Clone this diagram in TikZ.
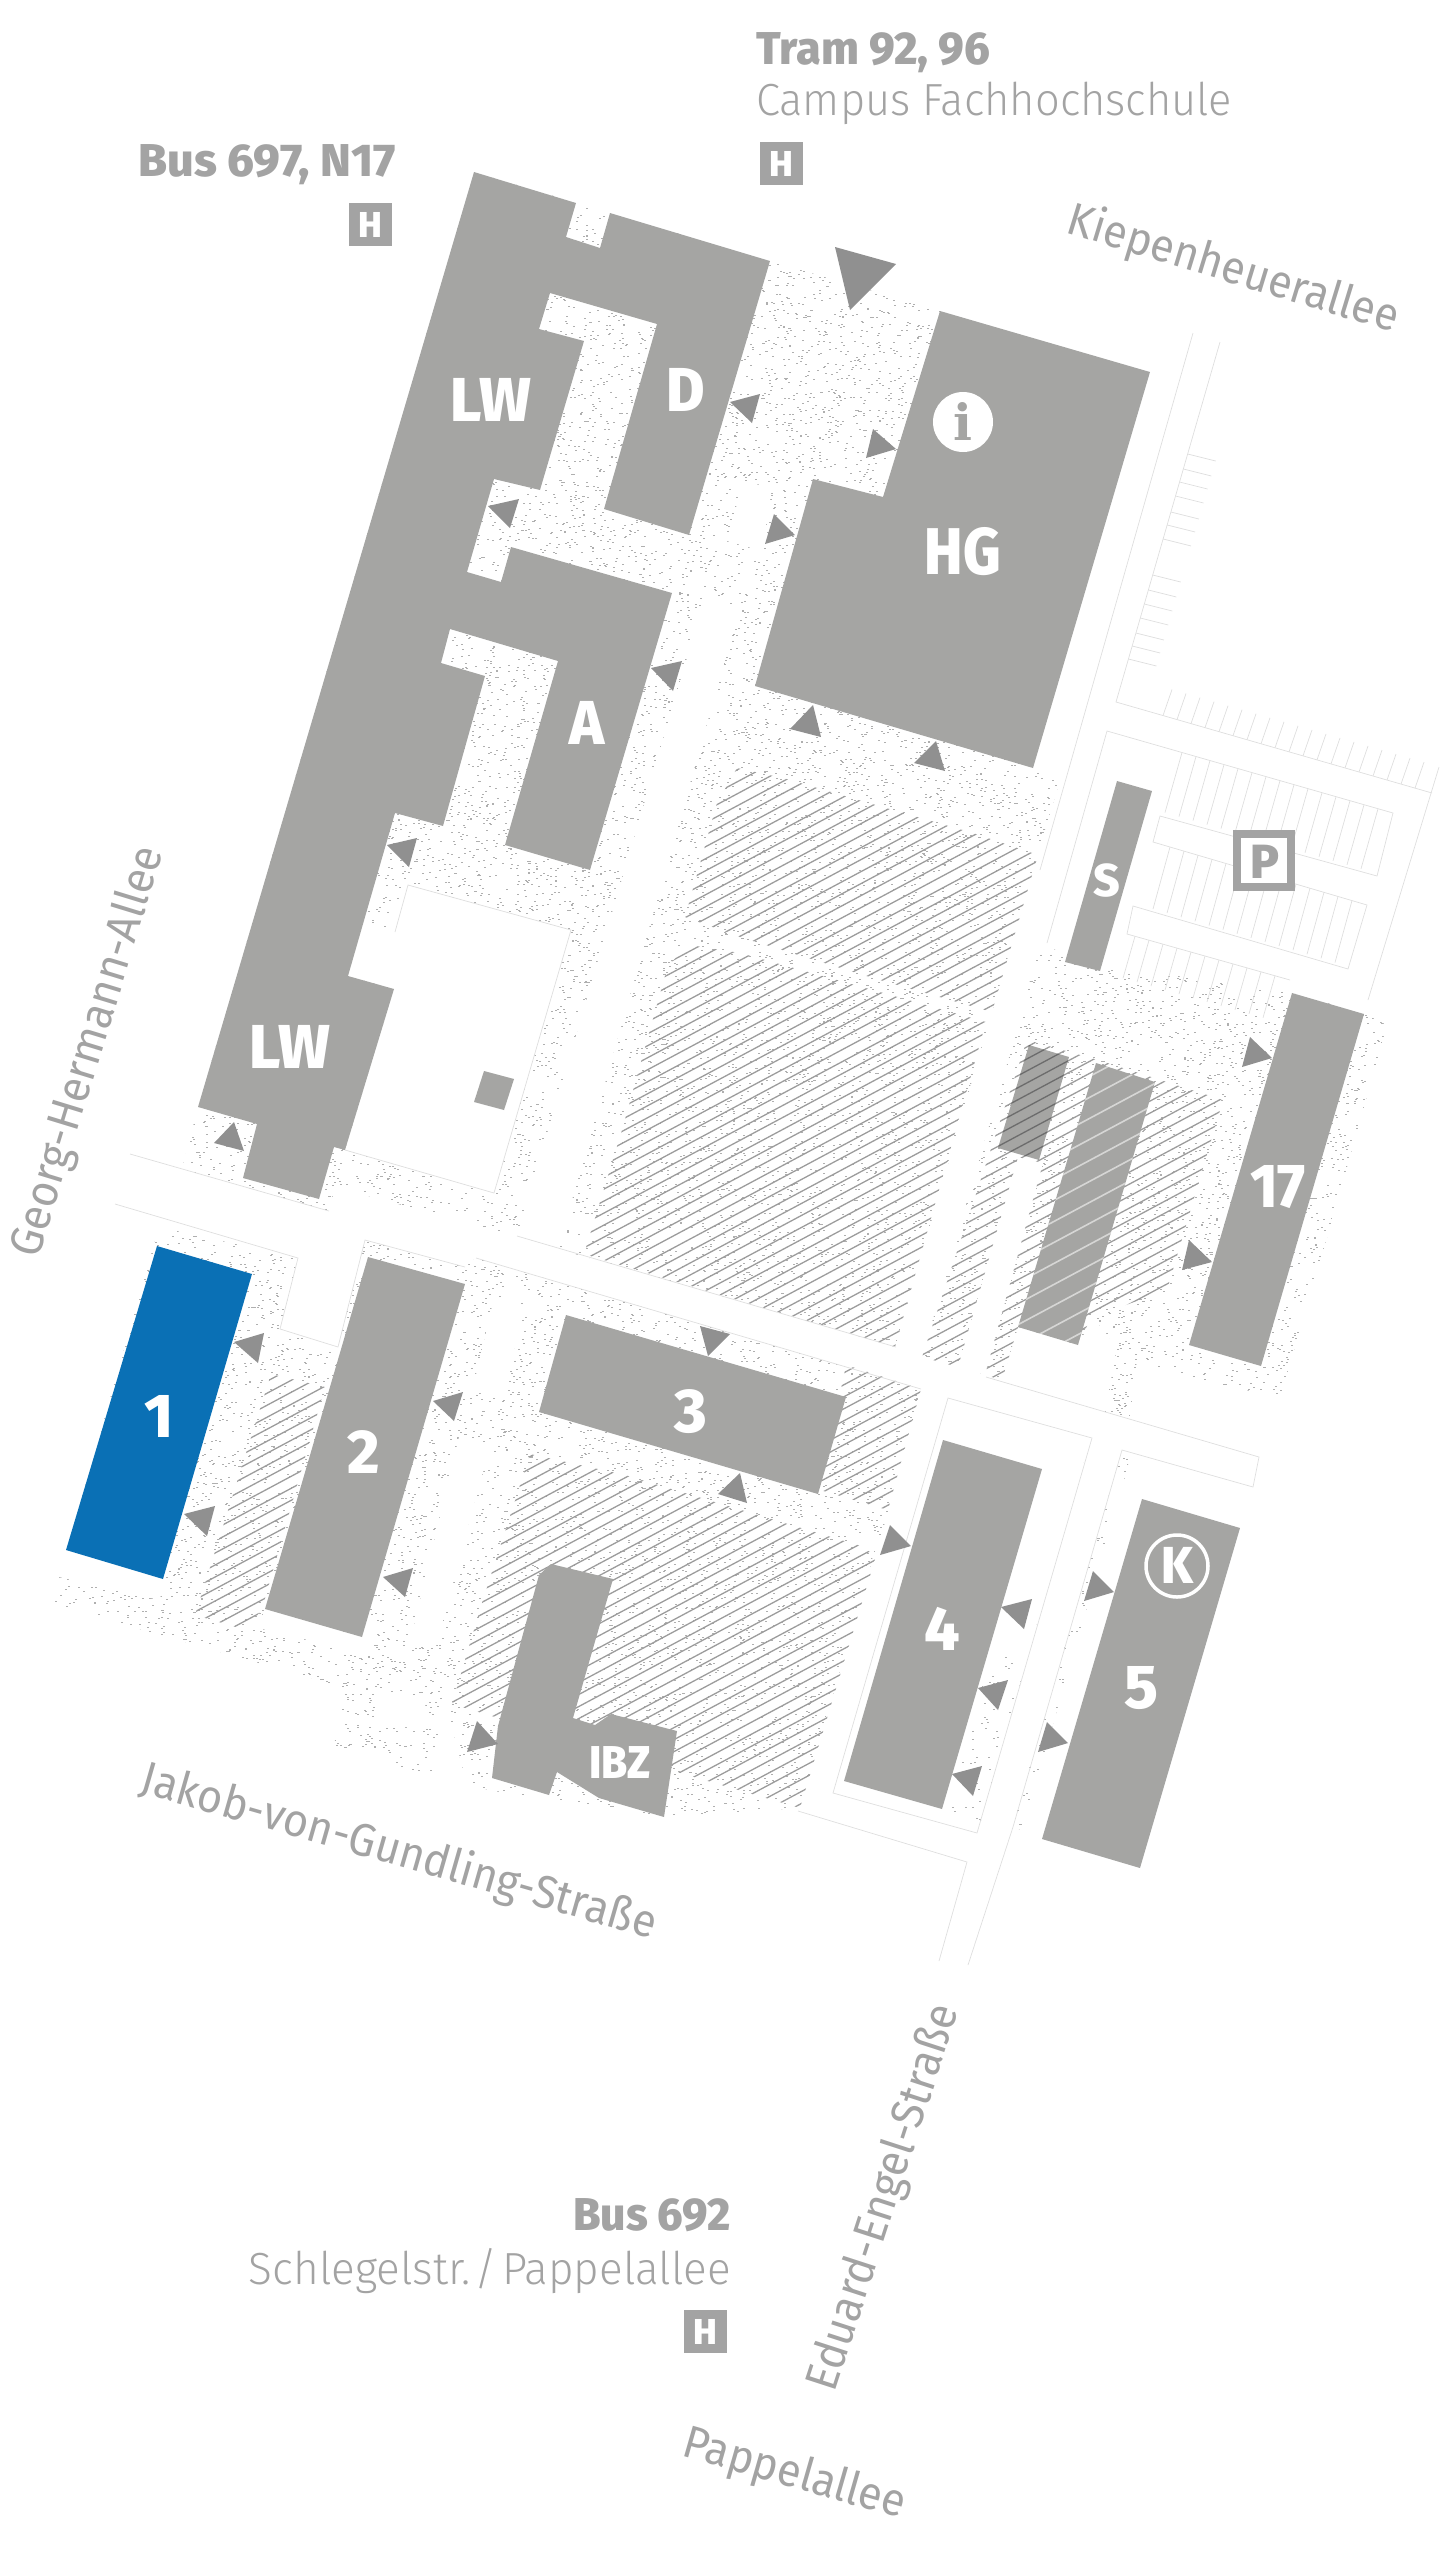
\documentclass[tikz,border=0pt]{standalone}
\usepackage{graphicx}
\usepackage{fontspec}
\setmainfont{Fira Sans}
\newfontfamily\serifbd{DejaVu Serif}
\newfontfamily\lite{Fira Sans Light}
\newfontfamily\xbold{Fira Sans ExtraBold}
\usetikzlibrary{calc}
\definecolor{bld}{HTML}{A5A5A3}
\definecolor{tri}{HTML}{909090}
\definecolor{blu}{HTML}{0A70B5}
\definecolor{txtc}{HTML}{A3A3A3}
\definecolor{thinc}{HTML}{DEDEDE}
\definecolor{dotc}{HTML}{AFAFAF}
\definecolor{hat}{HTML}{9C9C9C}
\tikzset{
 building/.style={fill=bld,draw=none},
 arrowtri/.style={fill=tri,draw=none},
 whitepoly/.style={fill=white,draw=none},
 thinline/.style={draw=thinc,line width=.7pt},
 hatchline/.style={draw=hat,line width=1.3pt},
 lbl/.style={text=white,inner sep=0pt,anchor=base,font=\xbold\fontsize{62}{62}\selectfont},
 smalllbl/.style={lbl,font=\xbold\fontsize{46}{46}\selectfont},
 hlbl/.style={lbl,font=\xbold\fontsize{36}{36}\selectfont},
 titlebold/.style={text=txtc,inner sep=0pt,font=\xbold\fontsize{46}{46}\selectfont},
 titlereg/.style={text=txtc,inner sep=0pt,font=\lite\fontsize{45}{45}\selectfont},
 roadlbl/.style={text=txtc,inner sep=0pt,anchor=center,font=\fontsize{46}{46}\selectfont},
}
\newcount\dotn
\newcommand{\stip}[5]{%
 \dotn=#5\relax
 \pgfsetfillcolor{dotc}%
 \loop
  \pgfmathrandominteger{\rx}{#1}{#2}%
  \pgfmathrandominteger{\ry}{#3}{#4}%
  \pgfpathrectangle{\pgfqpoint{\rx pt}{-\ry pt}}{\pgfqpoint{1.5pt}{1.3pt}}%
  \pgfusepath{fill}%
  \advance\dotn by -1
 \ifnum\dotn>0 \repeat
}
\newcommand{\hatchclip}[4]{%
 \begin{scope}
  \clip #1;
  \foreach \c in {#3,#4,...,3400}
   \draw[#2] (0,\c) -- (1440,\c-770);
 \end{scope}
}
\begin{document}
\begin{tikzpicture}[x=1pt,y=-1pt]
\useasboundingbox (0,0) rectangle (1440,2560);
% --- stipple
\pgfmathsetseed{42}
\begin{scope}
 \clip (770,261)--(940,311)--(1033,768)--(1060,780)--(1038,853)--(895,1347)--(760,1307)--(558,1249)--(517,1236)--(335,1187)--(329,1211)--(182,1169)--(198,1107)--(474,172)--cycle;
 \stip{182}{1060}{172}{1347}{19000}
\end{scope}
\begin{scope}
 \clip (159,1227)--(298,1258)--(280,1329)--(338,1347)--(365,1240)--(465,1267)--(476,1258)--(921,1389)--(888,1514)--(874,1554)--(800,1808)--(664,1817)--(494,1791)--(467,1785)--(445,1700)--(432,1776)--(334,1747)--(343,1687)--(52,1604)--(59,1577)--cycle;
 \stip{52}{921}{1227}{1817}{9000}
\end{scope}
\begin{scope}
 \clip (1040,943)--(1100,970)--(1137,970)--(1292,993)--(1363,1013)--(1387,1025)--(1333,1217)--(1280,1398)--(1190,1377)--(1137,1360)--(1130,1417)--(1105,1412)--(1117,1347)--(1093,1317)--(1078,1345)--(1018,1327)--(1002,1380)--(922,1357)--(1014,1040)--cycle;
 \stip{922}{1387}{943}{1417}{4200}
\end{scope}
\begin{scope}
 \clip (1088,1445)--(1030,1650)--(990,1660)--(945,1810)--(980,1824)--cycle;
 \stip{945}{1088}{1445}{1824}{500}
\end{scope}
\begin{scope}
 \clip (1122,1450)--(1132,1453)--(1022,1830)--(1012,1827)--cycle;
 \stip{1012}{1132}{1450}{1830}{500}
\end{scope}
% --- white overlays
\fill[whitepoly] (408,885)--(571,930)--(494,1193)--(345,1150)--(394,989)--(348,976)--(364,920)--(395,932)--cycle;
\fill[whitepoly] (743,482)--(772,487)--(762,551)--(727,541)--cycle;
\fill[whitepoly] (705,597)--(740,607)--(558,1249)--(517,1236)--cycle;
\fill[whitepoly] (494,1298)--(525,1307)--(503,1396)--(472,1392)--cycle;
\fill[whitepoly] (459,1437)--(490,1446)--(436,1646)--(409,1646)--cycle;
\fill[whitepoly] (374,1727)--(418,1727)--(427,1700)--(383,1691)--cycle;
\fill[whitepoly] (265,1609)--(362,1637)--(358,1652)--(258,1628)--cycle;
\fill[whitepoly] (66,1550)--(163,1579)--(160,1600)--(59,1577)--cycle;
\fill[whitepoly] (1018,1157)--(1043,1163)--(985,1375)--(958,1367)--cycle;
% --- hatching
\hatchclip{(737,768)--(783,778)--(893,810)--(973,833)--(1038,855)--(992,1012)--(873,978)--(740,937)--(685,917)--(717,803)--cycle}{hatchline}{0}{12}
\hatchclip{(690,945)--(740,953)--(880,992)--(986,1022)--(895,1347)--(584,1254)--(622,1130)--(668,965)--cycle}{hatchline}{0}{12}
\hatchclip{(1027,1040)--(1098,1060)--(1223,1100)--(1167,1290)--(1093,1317)--(1078,1340)--(1018,1327)--(1002,1380)--(985,1375)--(1043,1163)--(1018,1157)--(958,1367)--(922,1357)--cycle}{hatchline}{0}{12}
\hatchclip{(530,1454)--(625,1475)--(861,1546)--(876,1556)--(800,1808)--(677,1772)--(452,1704)--(481,1606)--cycle}{hatchline}{0}{12}
\hatchclip{(846,1365)--(921,1389)--(888,1510)--(820,1490)--cycle}{hatchline}{0}{12}
\hatchclip{(271,1374)--(325,1387)--(262,1609)--(246,1630)--(195,1615)--cycle}{hatchline}{0}{12}
% --- thin lines
\draw[thinline] (130,1154)--(329,1211);
\draw[thinline] (517,1236)--(896,1347);
\draw[thinline] (115,1204)--(298,1258)--(280,1329)--(338,1347)--(365,1240)--(465,1267);
\draw[thinline] (476,1258)--(921,1389);
\draw[thinline] (986,1377)--(1259,1457)--(1253,1487)--(1122,1450)--(1013,1827)--(968,1965);
\draw[thinline] (948,1398)--(1092,1438)--(977,1833)--(833,1793)--cycle;
\draw[thinline] (798,1811)--(967,1862)--(939,1961);
\draw[thinline] (1193,333)--(1040,870);
\draw[thinline] (1220,342)--(1116,702)--(1432,793);
\draw[thinline] (1439,767)--(1368,1000);
\draw[thinline] (1047,943)--(1107,731)--(1393,813)--(1377,876)--(1160,816)--(1153,842)--(1367,905)--(1348,969)--(1133,906)--(1127,934)--(1290,980);
\draw[thinline] (395,932)--(408,885)--(571,930)--(494,1193)--(345,1150);
\foreach \y in {454,469,482,496,512,525,539,575,590,604,618,633,646,659}
 \draw[thinline] ({1116+(702-\y)*.289},\y)--++(28,7);
\foreach \x in {1163,1177,...,1423}
 \draw[thinline] (\x,{702+(\x-1116)*.288})--++(9,-26);
\foreach \x in {1182,1196,...,1380}
 \draw[thinline] (\x,{731+(\x-1107)*.287})--++(-17,60);
\foreach \x in {1170,1184,...,1352}
 \draw[thinline] (\x,{842+(\x-1153)*.294})--++(-17,62);
\foreach \x in {1135,1149,...,1275}
 \draw[thinline] (\x,{934+(\x-1127)*.282})--++(-12,42);
% --- buildings
\fill[building] (474,172)--(576,203)--(566,237)--(600,248)--(610,213)--(770,261)--(689,535)--(604,509)--(657,324)--(550,293)--(539,329)--(584,341)--(540,490)--(494,479)--(467,572)--(501,582)--(511,547)--(672,593)--(590,870)--(505,845)--(558,661)--(450,629)--(441,663)--(485,676)--(443,826)--(395,813)--(348,976)--(394,989)--(345,1150)--(334,1147)--(319,1199)--(243,1178)--(257,1124)--(198,1107)--cycle;
\fill[building] (940,311)--(1150,372)--(1033,768)--(755,686)--(813,479)--(883,497)--cycle;
\fill[building] (484,1071)--(514,1079)--(504,1110)--(474,1102)--cycle;
\fill[blu] (157,1246)--(252,1274)--(163,1579)--(66,1550)--cycle;
\fill[building] (368,1257)--(465,1284)--(362,1637)--(265,1609)--cycle;
\fill[building] (566,1315)--(846,1397)--(818,1494)--(539,1412)--cycle;
\fill[building] (551,1564)--(613,1579)--(573,1718)--(595,1725)--(611,1714)--(677,1731)--(664,1817)--(599,1798)--(557,1772)--(549,1795)--(492,1778)--(498,1726)--(539,1575)--cycle;
\fill[building] (943,1440)--(1042,1469)--(942,1809)--(844,1781)--cycle;
\fill[building] (1142,1499)--(1240,1528)--(1140,1868)--(1042,1839)--cycle;
\fill[building] (1292,993)--(1364,1014)--(1261,1366)--(1189,1345)--cycle;
\fill[building] (1117,781)--(1152,791)--(1100,971)--(1065,962)--cycle;
\begin{scope}
 \clip (1096,1063)--(1155,1082)--(1078,1345)--(1018,1327)--cycle;
 \fill[building] (1000,1050) rectangle (1170,1350);
 \foreach \c in {0,21,...,3400}
  \draw[white,opacity=.55,line width=1.6pt] (0,\c)--(1440,\c-770);
\end{scope}
\begin{scope}
 \clip (1029,1045)--(1069,1057)--(1039,1160)--(998,1148)--cycle;
 \fill[building] (990,1040) rectangle (1075,1165);
 \foreach \c in {0,12,...,3400}
  \draw[draw=gray!85!black,line width=1.3pt] (0,\c)--(1440,\c-770);
\end{scope}
% --- triangles
\foreach \a/\b/\c in {{835,247}/{896,264}/{850,310},{730,402}/{760,394}/{752,423},{873,429}/{896,449}/{866,458},{774,514}/{795,535}/{765,544},{488,506}/{519,499}/{510,528},{651,668}/{682,661}/{673,691},{813,705}/{821,737}/{790,729},{936,741}/{945,771}/{914,763},{387,845}/{417,838}/{409,867},{234,1122}/{244,1151}/{214,1143},{234,1342}/{264,1333}/{258,1363},{184,1514}/{215,1506}/{207,1536},{433,1401}/{463,1392}/{454,1421},{383,1577}/{413,1568}/{405,1597},{477,1721}/{498,1744}/{467,1752},{700,1326}/{730,1334}/{708,1356},{740,1473}/{747,1503}/{718,1494},{890,1525}/{911,1546}/{880,1555},{1001,1607}/{1032,1599}/{1024,1629},{978,1688}/{1008,1680}/{998,1710},{952,1774}/{982,1766}/{973,1796},{1093,1571}/{1114,1592}/{1084,1601},{1047,1722}/{1068,1743}/{1038,1752},{1250,1037}/{1272,1058}/{1242,1067},{1189,1240}/{1212,1262}/{1182,1270}}
 \fill[arrowtri] (\a)--(\b)--(\c)--cycle;
% --- symbols
\node[fill=white,circle,minimum size=60pt,inner sep=0pt] (infoc) at (963,422) {};
\node[inner sep=0pt,text=bld,font=\serifbd\bfseries\fontsize{50}{50}\selectfont] (infoi) at (963,421) {i};
\node[circle,draw=white,line width=3.5pt,minimum size=62pt,inner sep=0pt] (kring) at (1177,1566) {};
\node[lbl,font=\xbold\fontsize{52}{52}\selectfont] (kk) at (1177,1583) {\scalebox{.95}[1]{K}};
\node[draw=txtc,line width=8pt,fill=white,minimum width=54pt,minimum height=53pt,inner sep=0pt] (pbox) at (1264,860) {};
\node[lbl,text=txtc,font=\xbold\fontsize{48}{48}\selectfont] (pp) at (1265,878) {P};
\node[fill=txtc,minimum size=43pt,inner sep=0pt] (h1) at (781,163) {};
\node[hlbl] (h1t) at (781,176) {H};
\node[fill=txtc,minimum size=43pt,inner sep=0pt] (h2) at (370,224) {};
\node[hlbl] (h2t) at (370,237) {H};
\node[fill=txtc,minimum size=43pt,inner sep=0pt] (h3) at (705,2331) {};
\node[hlbl] (h3t) at (705,2344) {H};
% --- labels
\node[lbl] (lw1) at (491,421) {\scalebox{.98}[1]{LW}};
\node[lbl] (dd) at (686,411) {\scalebox{.95}[1]{D}};
\node[lbl,font=\xbold\fontsize{66}{66}\selectfont] (hg) at (963,574) {\scalebox{.88}[1]{HG}};
\node[lbl] (aa) at (587,744) {\scalebox{.95}[1]{A}};
\node[lbl] (lw2) at (290,1068) {\scalebox{.98}[1]{LW}};
\node[smalllbl] (ss) at (1107,896) {S};
\node[lbl] (n17) at (1278,1207) {\scalebox{.95}[1]{17}};
\node[lbl] (n1) at (159,1437) {1};
\node[lbl] (n2) at (364,1473) {2};
\node[lbl] (n3) at (691,1432) {3};
\node[lbl] (n4) at (942,1650) {4};
\node[lbl] (n5) at (1141,1708) {5};
\node[smalllbl] (ibz) at (620,1778) {\scalebox{.92}[1]{IBZ}};
% --- titles
\node[titlebold,anchor=base west] (tram) at (756,64) {\scalebox{.98}[1]{Tram 92, 96}};
\node[titlereg,anchor=base west] (camp) at (756,115) {\scalebox{.965}[1]{Campus Fachhochschule}};
\node[titlebold,anchor=base east] (bus1) at (396,176) {\scalebox{1.02}[1]{Bus 697, N17}};
\node[titlebold,anchor=base east] (bus2) at (731,2230) {\scalebox{.97}[1]{Bus 692}};
\node[titlereg,anchor=base east] (schl) at (731,2284) {\scalebox{.98}[1]{Schlegelstr.\hspace{.1em}/\hspace{.1em}Pappelallee}};
\node[roadlbl,rotate=-17] (kiep) at (1233,270) {\scalebox{.94}[1]{Kiepenheuerallee}};
\node[roadlbl,rotate=73] (georg) at (89,1052) {\scalebox{.94}[1]{Georg-Hermann-Allee}};
\node[roadlbl,rotate=-16] (jakob) at (399,1853) {\scalebox{.94}[1]{Jakob-von-Gundling-Straße}};
\node[roadlbl,rotate=72] (edu) at (885,2198) {\scalebox{.94}[1]{Eduard-Engel-Straße}};
\node[roadlbl,rotate=-16] (papp) at (794,2475) {\scalebox{.94}[1]{Pappelallee}};
\end{tikzpicture}
\end{document}
